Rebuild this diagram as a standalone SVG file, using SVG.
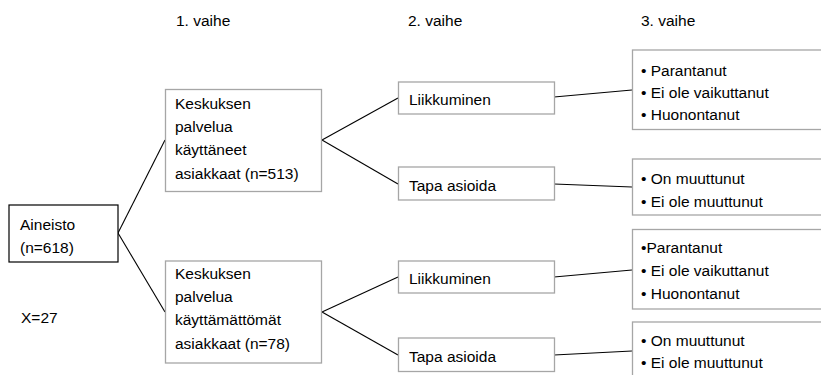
<svg xmlns="http://www.w3.org/2000/svg" width="821" height="375" viewBox="0 0 821 375">
<style>
text{font-family:"Liberation Sans",Arial,sans-serif;font-size:15.5px;fill:#000}
.b{fill:#fff;stroke:#a6a6a6;stroke-width:1.3}
.k{fill:#fff;stroke:#000;stroke-width:1.2}
.c line{stroke:#000;stroke-width:1.1}
</style>
<rect width="821" height="375" fill="#fff"/>
<g id="headers">
<text x="176" y="26">1. vaihe</text>
<text x="408" y="26">2. vaihe</text>
<text x="641" y="26">3. vaihe</text>
</g>
<g class="c" id="connectors">
<line x1="118" y1="233" x2="165" y2="140"/>
<line x1="118" y1="233" x2="165" y2="312"/>
<line x1="322" y1="140" x2="398" y2="98"/>
<line x1="322" y1="140" x2="398" y2="184"/>
<line x1="322" y1="312" x2="398" y2="277"/>
<line x1="322" y1="312" x2="398" y2="355"/>
<line x1="554" y1="97" x2="632" y2="90"/>
<line x1="554" y1="184" x2="632" y2="187"/>
<line x1="554" y1="277" x2="632" y2="270"/>
<line x1="554" y1="355" x2="632" y2="351"/>
</g>
<g id="aineisto">
<rect class="k" x="9" y="205" width="109" height="57"/>
<text x="20" y="230">Aineisto</text>
<text x="20" y="253">(n=618)</text>
</g>
<g id="x27">
<text x="21" y="323">X=27</text>
</g>
<g id="kayttaneet">
<rect class="b" x="165.5" y="89.5" width="156" height="102"/>
<text x="175" y="108.5">Keskuksen</text>
<text x="175" y="132">palvelua</text>
<text x="175" y="155">käyttäneet</text>
<text x="175" y="178.5">asiakkaat (n=513)</text>
</g>
<g id="kayttamattomat">
<rect class="b" x="165.5" y="261" width="156" height="102"/>
<text x="175" y="278.5">Keskuksen</text>
<text x="175" y="302">palvelua</text>
<text x="175" y="325">käyttämättömät</text>
<text x="175" y="348.5">asiakkaat (n=78)</text>
</g>
<g id="liikkuminen1">
<rect class="b" x="398.5" y="82" width="156" height="32"/>
<text x="409" y="105">Liikkuminen</text>
</g>
<g id="tapa1">
<rect class="b" x="398.5" y="167" width="156" height="33"/>
<text x="409" y="190.5">Tapa asioida</text>
</g>
<g id="liikkuminen2">
<rect class="b" x="398.5" y="261" width="156" height="32"/>
<text x="409" y="283.5">Liikkuminen</text>
</g>
<g id="tapa2">
<rect class="b" x="398.5" y="338" width="156" height="33.5"/>
<text x="409" y="361.5">Tapa asioida</text>
</g>
<g id="vaikutus1">
<rect class="b" x="632.5" y="50" width="200" height="79.5"/>
<text x="641" y="75.5">• Parantanut</text>
<text x="641" y="97.5">• Ei ole vaikuttanut</text>
<text x="641" y="120">• Huonontanut</text>
</g>
<g id="muutos1">
<rect class="b" x="632.5" y="159" width="200" height="56"/>
<text x="641" y="184">• On muuttunut</text>
<text x="641" y="206.5">• Ei ole muuttunut</text>
</g>
<g id="vaikutus2">
<rect class="b" x="632.5" y="229.5" width="200" height="79.5"/>
<text x="641" y="253">•Parantanut</text>
<text x="641" y="276">• Ei ole vaikuttanut</text>
<text x="641" y="299">• Huonontanut</text>
</g>
<g id="muutos2">
<rect class="b" x="632.5" y="322" width="200" height="60"/>
<text x="641" y="345.5">• On muuttunut</text>
<text x="641" y="368">• Ei ole muuttunut</text>
</g>
</svg>
